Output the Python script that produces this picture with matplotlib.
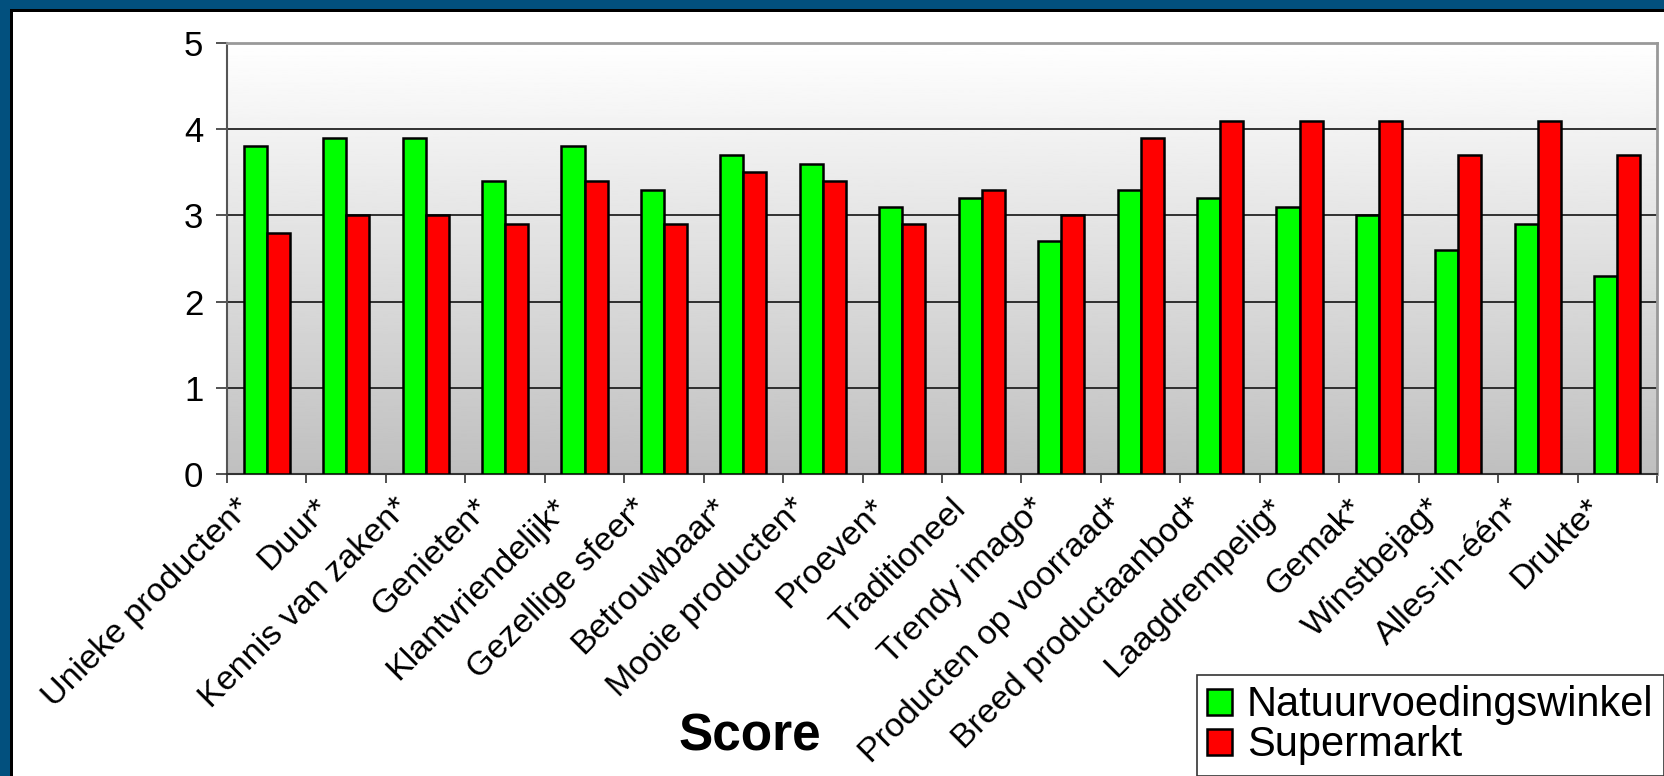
import numpy as np
import matplotlib.pyplot as plt
from matplotlib.patches import Rectangle, Patch
from matplotlib.transforms import ScaledTranslation

plt.rcParams['font.family'] = ['Liberation Sans', 'DejaVu Sans']

categories = ["Unieke producten*", "Duur*", "Kennis van zaken*", "Genieten*",
              "Klantvriendelijk*", "Gezellige sfeer*", "Betrouwbaar*",
              "Mooie producten*", "Proeven*", "Traditioneel", "Trendy imago*",
              "Producten op voorraad*", "Breed productaanbod*", "Laagdrempelig*",
              "Gemak*", "Winstbejag*", "Alles-in-één*", "Drukte*"]
natuurvoeding = [3.8, 3.9, 3.9, 3.4, 3.8, 3.3, 3.7, 3.6, 3.1,
                 3.2, 2.7, 3.3, 3.2, 3.1, 3.0, 2.6, 2.9, 2.3]
supermarkt = [2.8, 3.0, 3.0, 2.9, 3.4, 2.9, 3.5, 3.4, 2.9,
              3.3, 3.0, 3.9, 4.1, 4.1, 4.1, 3.7, 4.1, 3.7]
series_names = ["Natuurvoedingswinkel", "Supermarkt"]
yticks = [0, 1, 2, 3, 4, 5]

W, H = 1664, 776
fig = plt.figure(figsize=(W / 100, H / 100), dpi=100)
fig.patch.set_facecolor('white')

# frame: blue band + black line on top and left
blue = '#02507E'
fig.add_artist(Rectangle((0, 1 - 9 / H), 1, 9 / H, transform=fig.transFigure,
                         facecolor=blue, edgecolor='none'))
fig.add_artist(Rectangle((0, 0), 10 / W, 1, transform=fig.transFigure,
                         facecolor=blue, edgecolor='none'))
fig.add_artist(Rectangle((10 / W, 1 - 12 / H), 1, 3 / H, transform=fig.transFigure,
                         facecolor='black', edgecolor='none'))
fig.add_artist(Rectangle((10 / W, 0), 3 / W, 1 - 9 / H, transform=fig.transFigure,
                         facecolor='black', edgecolor='none'))

ax = fig.add_axes([227 / W, 1 - 474 / H, (1657 - 227) / W, (474 - 43) / H])

# gradient background
grad = np.linspace(1.0, 0.75, 256).reshape(-1, 1)
ax.imshow(grad, cmap='gray', vmin=0, vmax=1, extent=[0, 1, 0, 1],
          transform=ax.transAxes, aspect='auto', zorder=0)

n = len(categories)
x = np.arange(n) + 0.5
w = 0.29
ax.bar(x - w / 2, natuurvoeding, w, color='#00FF00', edgecolor='black',
       linewidth=1.8, zorder=3, label=series_names[0])
ax.bar(x + w / 2, supermarkt, w, color='#FF0000', edgecolor='black',
       linewidth=1.8, zorder=3, label=series_names[1])

ax.set_xlim(0, n)
ax.set_ylim(0, 5)

for yv in yticks[1:-1]:
    ax.axhline(yv, color='#222222', linewidth=1.3, zorder=1)

ax.set_yticks(yticks)
ax.tick_params(axis='y', length=8, width=1.3, color='#444444', pad=9,
               labelsize=25)
ax.set_xticks(np.arange(n + 1))
ax.set_xticklabels([])
ax.tick_params(axis='x', which='major', length=6.5, width=1.3, color='#444444')
ax.set_xticks(x, minor=True)
ax.set_xticklabels(categories, minor=True, rotation=45, ha='right',
                   fontsize=24.5)
ax.tick_params(axis='x', which='minor', length=0, pad=13.5)
offset = ScaledTranslation(-0.10, 0, fig.dpi_scale_trans)
for lbl in ax.get_xticklabels(minor=True):
    lbl.set_transform(lbl.get_transform() + offset)

ax.spines['left'].set_color('#555555')
ax.spines['left'].set_linewidth(1.5)
ax.spines['bottom'].set_color('#333333')
ax.spines['bottom'].set_linewidth(1.5)
ax.spines['top'].set_color('#999999')
ax.spines['top'].set_linewidth(2)
ax.spines['right'].set_color('#999999')
ax.spines['right'].set_linewidth(2)

fig.text(750 / W, 1 - 737 / H, 'Score', ha='center', va='center',
         fontsize=37, fontweight='bold')

handles = [Patch(facecolor='#00FF00', edgecolor='black', linewidth=1.8),
           Patch(facecolor='#FF0000', edgecolor='black', linewidth=1.8)]
leg = fig.legend(handles, series_names, loc='upper left',
                 bbox_to_anchor=(1197 / W, 1 - 675 / H),
                 bbox_transform=fig.transFigure, fontsize=30,
                 frameon=True, fancybox=False, borderaxespad=0,
                 borderpad=0.25, labelspacing=0.0, handlelength=0.6,
                 handleheight=0.6, handletextpad=0.35)
leg.get_frame().set_edgecolor('black')
leg.get_frame().set_linewidth(1.2)

fig.savefig('out.png', dpi=100)
